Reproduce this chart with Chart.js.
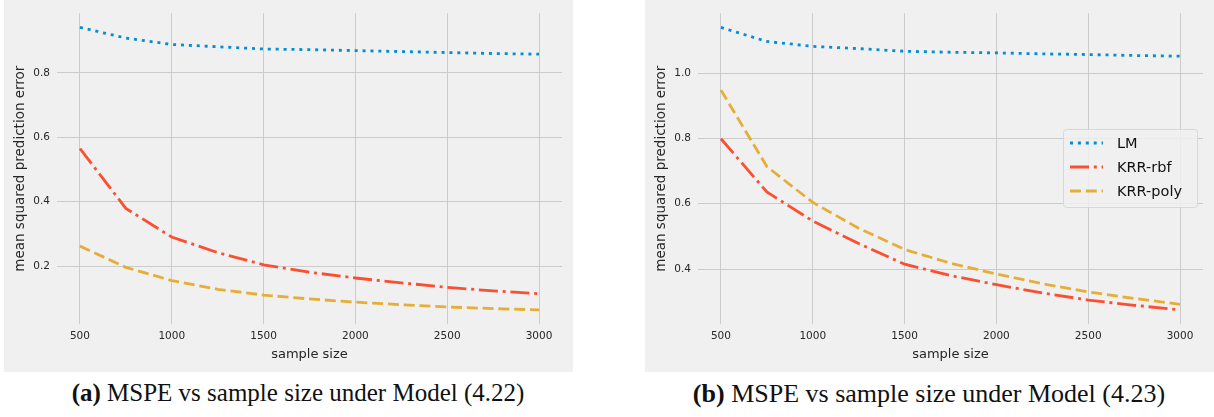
<!DOCTYPE html>
<html>
<head>
<meta charset="utf-8">
<script src="https://cdn.jsdelivr.net/npm/chart.js@4.4.1/dist/chart.umd.min.js"></script>
<style>
  html, body { margin:0; padding:0; background:#fff; }
  body { width:1214px; height:417px; position:relative; overflow:hidden; }
  .panel { position:absolute; top:0; width:569px; height:372px; background:#f0f0f0; }
  .cap { position:absolute; top:379px; width:640px; text-align:center;
         font-family:'Liberation Serif', 'Times New Roman', serif; font-size:25px; color:#111; white-space:nowrap; }
</style>
</head>
<body>
<div class="panel" style="left:4px"><canvas id="chartA" width="569" height="372"></canvas></div>
<div class="panel" style="left:645px"><canvas id="chartB" width="569" height="372"></canvas></div>
<div class="cap" style="left:-22px"><b>(a)</b> MSPE vs sample size under Model (4.22)</div>
<div class="cap" style="left:609px;font-size:26px"><b>(b)</b> MSPE vs sample size under Model (4.23)</div>
<script>
// sample sizes shared by both panels
const sampleSizes = [500, 750, 1000, 1250, 1500, 1750, 2000, 2250, 2500, 2750, 3000];
const xTicks = [500, 1000, 1500, 2000, 2500, 3000];

// (a) Model 4.22
const lmA      = [0.941, 0.908, 0.888, 0.881, 0.874, 0.872, 0.869, 0.866, 0.863, 0.860, 0.858];
const rbfA     = [0.565, 0.379, 0.290, 0.242, 0.204, 0.181, 0.163, 0.148, 0.134, 0.123, 0.114];
const polyA    = [0.262, 0.196, 0.155, 0.128, 0.110, 0.098, 0.088, 0.080, 0.073, 0.068, 0.064];
const yTicksA  = [0.2, 0.4, 0.6, 0.8];

// (b) Model 4.23
const lmB      = [1.140, 1.097, 1.082, 1.075, 1.067, 1.064, 1.062, 1.059, 1.057, 1.054, 1.052];
const rbfB     = [0.799, 0.636, 0.547, 0.478, 0.415, 0.380, 0.352, 0.327, 0.305, 0.289, 0.275];
const polyB    = [0.948, 0.714, 0.604, 0.525, 0.460, 0.418, 0.385, 0.355, 0.330, 0.310, 0.292];
const yTicksB  = [0.4, 0.6, 0.8, 1.0];

const seriesNames = ['LM', 'KRR-rbf', 'KRR-poly'];

const blue = '#008fd5', red = '#fc4f30', gold = '#e5ae38';
const grid = '#cbcbcb', ink = '#262626';
const lw = 2.8;
const dashes = [[3, 4.9], [19, 4.8, 3, 4.8], [11, 4.8]];
const colors = [blue, red, gold];
const font = "'DejaVu Sans', sans-serif";

function pts(ys){ return sampleSizes.map((x,i)=>({x, y:ys[i]})); }

// matplotlib-like 5% data margins
function pad(lists){
  const all = lists.flat();
  const lo = Math.min(...all), hi = Math.max(...all), m = (hi-lo)*0.05;
  return [lo-m, hi+m];
}

// legend drawn inside the plot like matplotlib's 'best' placement
const boxLegend = {
  id:'boxLegend',
  afterDatasetsDraw(chart, args, opts){
    if(!opts.show) return;
    const ctx = chart.ctx;
    const x = 418, y = 129, w = 134, h = 78;
    ctx.save();
    ctx.beginPath();
    ctx.roundRect(x+0.5, y+0.5, w, h, 3);
    ctx.fillStyle = 'rgba(240,240,240,0.85)';
    ctx.fill();
    ctx.strokeStyle = '#d8d8d8';
    ctx.lineWidth = 1;
    ctx.stroke();
    ctx.font = "14.5px " + font;
    ctx.textBaseline = 'middle';
    chart.data.datasets.forEach((ds,i)=>{
      const ry = y + 14 + i*24;
      ctx.beginPath();
      ctx.setLineDash(ds.borderDash);
      ctx.strokeStyle = ds.borderColor;
      ctx.lineWidth = lw;
      ctx.moveTo(x+7, ry); ctx.lineTo(x+40, ry);
      ctx.stroke();
      ctx.setLineDash([]);
      ctx.fillStyle = '#111';
      ctx.fillText(ds.label, x+54, ry+1);
    });
    ctx.restore();
  }
};

function build(id, lists, yTicks, showLegend){
  const [ymin, ymax] = pad(lists);
  new Chart(document.getElementById(id), {
    type:'line',
    data:{ datasets: lists.map((ys,i)=>({
      label: seriesNames[i], data: pts(ys),
      borderColor: colors[i], borderWidth: lw, borderDash: dashes[i], borderCapStyle:'butt',
      pointRadius:0, tension:0, fill:false })) },
    options:{
      responsive:false, animation:false,
      layout:{ padding:{ top:11, right:11, left:0, bottom:0 } },
      plugins:{ legend:{display:false}, tooltip:{enabled:false}, boxLegend:{show:showLegend} },
      scales:{
        x:{ type:'linear', min:375, max:3125,
            afterBuildTicks: s => { s.ticks = xTicks.map(v=>({value:v})); },
            afterFit: s => { s.height = 48; },
            grid:{ color:grid, lineWidth:1, drawTicks:false }, border:{display:false},
            ticks:{ color:ink, font:{family:font, size:10.5}, padding:6, maxRotation:0, callback:v=>String(v) },
            title:{ display:true, text:'sample size', color:ink, font:{family:font, size:13}, padding:{top:0, bottom:10} } },
        y:{ type:'linear', min:ymin, max:ymax,
            afterBuildTicks: s => { s.ticks = yTicks.map(v=>({value:v})); },
            afterFit: s => { s.width = 53; },
            grid:{ color:grid, lineWidth:1, drawTicks:false }, border:{display:false},
            ticks:{ color:ink, font:{family:font, size:10.5}, padding:7, callback:v=>v.toFixed(1) },
            title:{ display:true, text:'mean squared prediction error', color:ink, font:{family:font, size:13.5}, padding:{top:8, bottom:0} } }
      }
    },
    plugins:[boxLegend]
  });
}

build('chartA', [lmA, rbfA, polyA], yTicksA, false);
build('chartB', [lmB, rbfB, polyB], yTicksB, true);
</script>
</body>
</html>
